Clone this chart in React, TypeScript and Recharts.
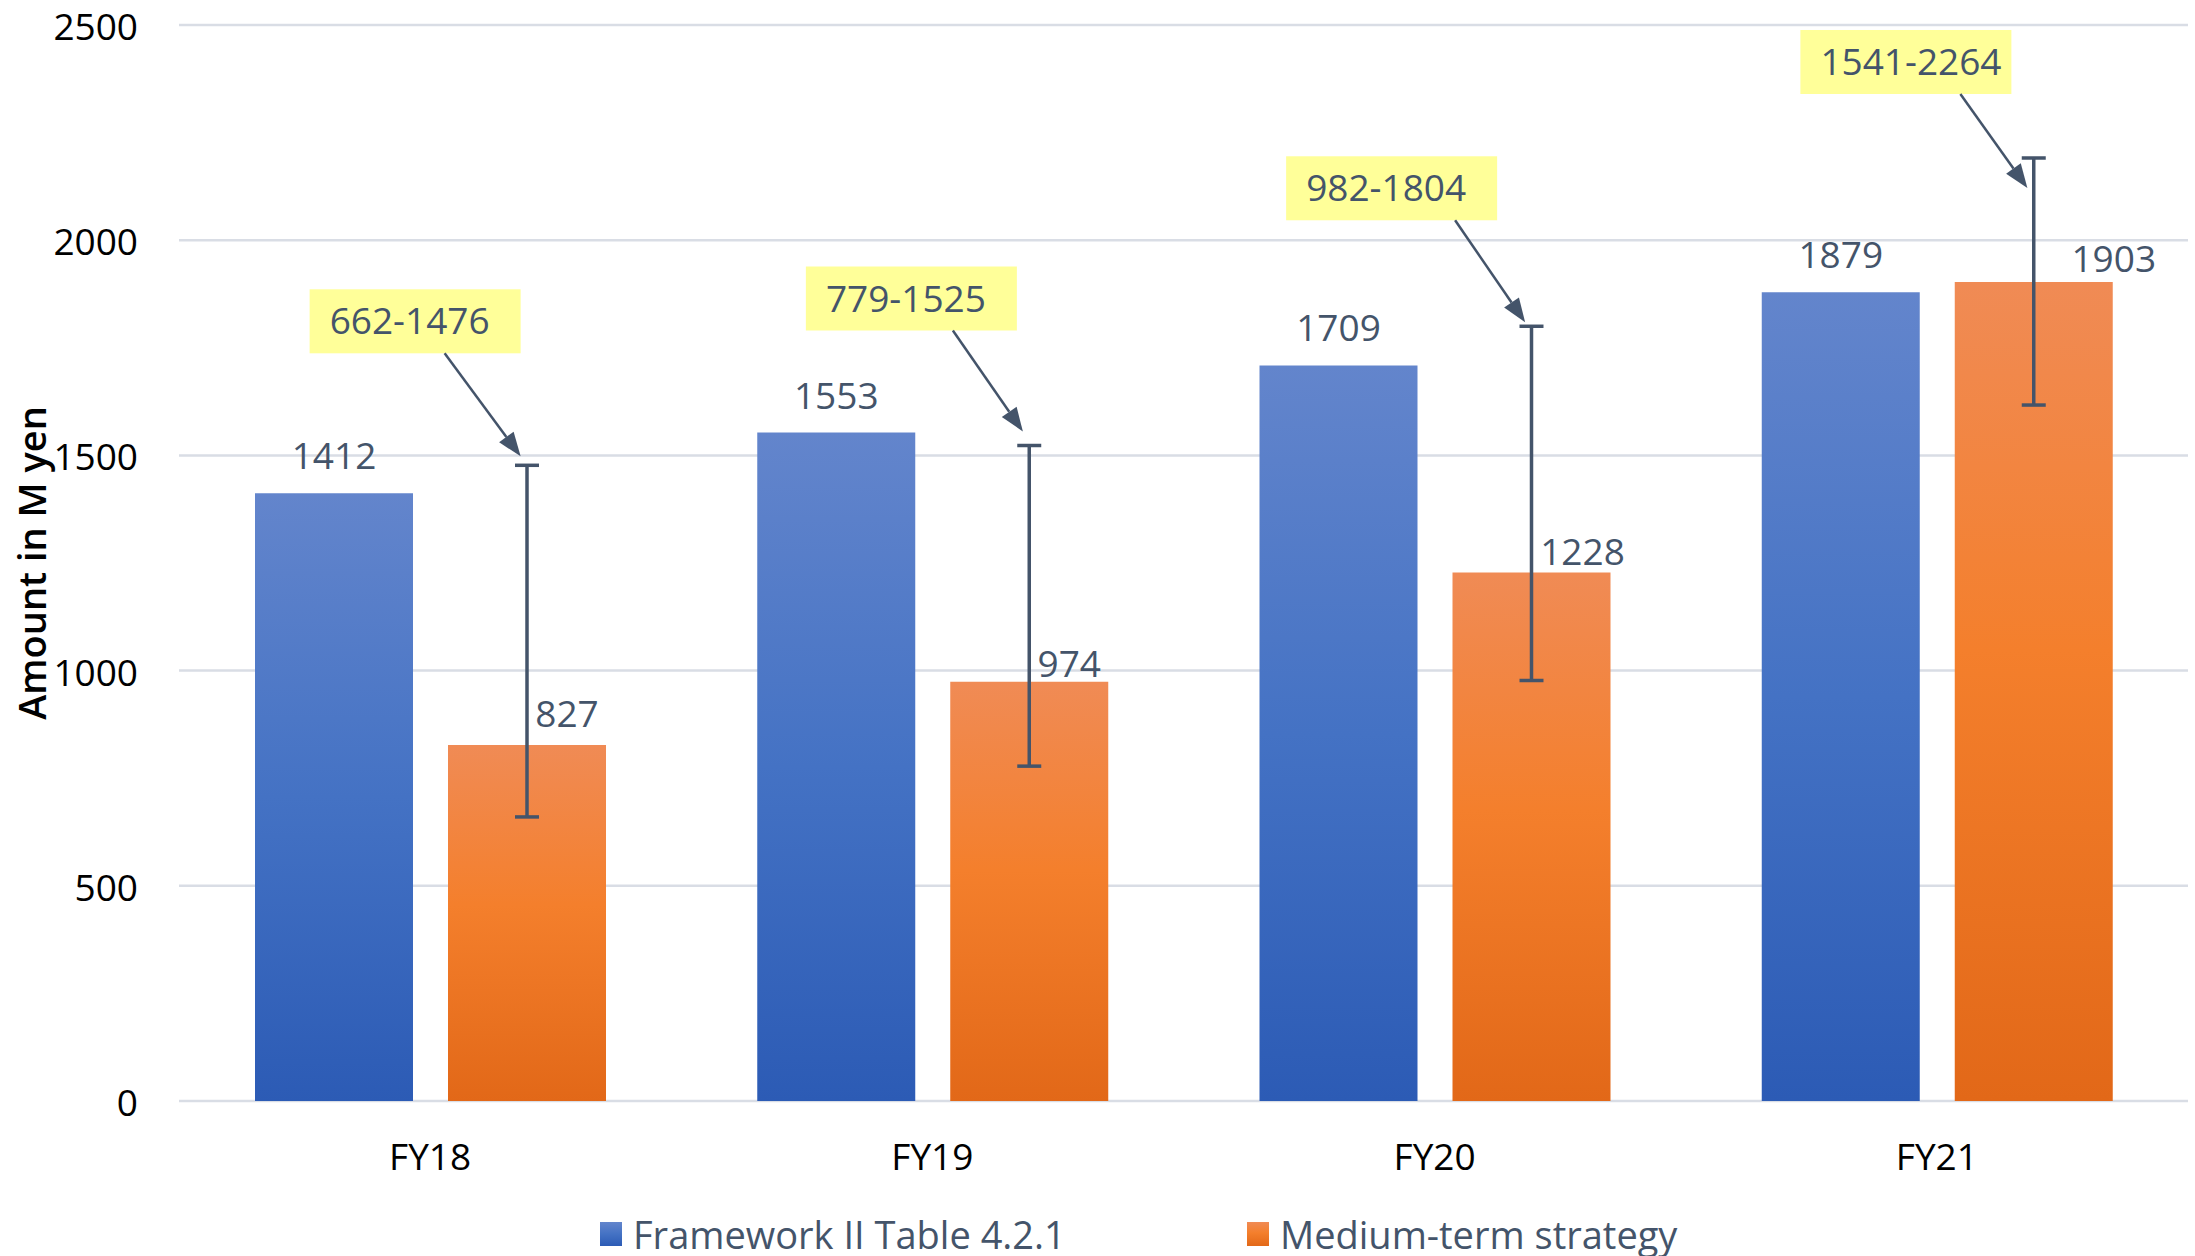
import React from "react";
import {
  BarChart,
  Bar,
  XAxis,
  YAxis,
  CartesianGrid,
  ErrorBar,
  LabelList,
  Legend,
  ReferenceDot,
} from "recharts";

const categories = ["FY18", "FY19", "FY20", "FY21"];
const frameworkValues = [1412, 1553, 1709, 1879];
const strategyValues = [827, 974, 1228, 1903];
// range drawn by the error bars
const rangeLow = [660, 778, 977, 1617];
const rangeHigh = [1477, 1523, 1800, 2191];
// text of the yellow callouts
const rangeLabels = ["662-1476", "779-1525", "982-1804", "1541-2264"];
const yTicks = [0, 500, 1000, 1500, 2000, 2500];

const data = categories.map((name, i) => ({
  name,
  framework: frameworkValues[i],
  strategy: strategyValues[i],
  range: [strategyValues[i] - rangeLow[i], rangeHigh[i] - strategyValues[i]],
}));

const FONT = "'Open Sans', 'Segoe UI', sans-serif";
const SLATE = "#44546A";
const BAR_SIZE = 158;
const BAR_GAP = 35;
const FS = 37;

// hand-placed label nudges for the orange series
const orangeLabelDx = [40, 40, 51, 80];
const orangeLabelDy = [-31, -18, -20, -23];

// callout box / arrow placement relative to the top of each error bar
const calloutLayout = [
  { boxX: -217, boxBottom: -112, startX: -82, tipY: -9 },
  { boxX: -223, boxBottom: -115, startX: -76, tipY: -14 },
  { boxX: -245, boxBottom: -106, startX: -76, tipY: -4 },
  { boxX: -233, boxBottom: -64, startX: -73, tipY: 30 },
];

const renderBlueLabel = (props: any) => {
  const { x, y, width, value } = props;
  return (
    <text
      x={x + width / 2}
      y={y - 37 + 13}
      textAnchor="middle"
      fill={SLATE}
      fontSize={FS}
      fontFamily={FONT}
    >
      {value}
    </text>
  );
};

const renderOrangeLabel = (props: any) => {
  const { x, y, width, value, index } = props;
  return (
    <text
      x={x + width / 2 + orangeLabelDx[index]}
      y={y + orangeLabelDy[index] + 13}
      textAnchor="middle"
      fill={SLATE}
      fontSize={FS}
      fontFamily={FONT}
    >
      {value}
    </text>
  );
};

const renderYTick = (props: any) => {
  const { x, y, payload } = props;
  return (
    <text x={x} y={y} dy={15} textAnchor="end" fill="#000" fontSize={FS} fontFamily={FONT}>
      {payload.value}
    </text>
  );
};

const makeCallout = (i: number) => (props: any) => {
  const { cx, cy } = props;
  const ex = cx + (BAR_SIZE + BAR_GAP) / 2;
  const lay = calloutLayout[i];
  const bw = 211;
  const bh = 64;
  const bx = ex + lay.boxX;
  const by = cy + lay.boxBottom - bh;
  const sx = ex + lay.startX;
  const sy = cy + lay.boxBottom;
  const tx = ex - 6;
  const ty = cy + lay.tipY;
  const ang = Math.atan2(ty - sy, tx - sx);
  const len = 24;
  const hw = 9;
  const bxp = tx - len * Math.cos(ang);
  const byp = ty - len * Math.sin(ang);
  const p1 = `${bxp + hw * Math.sin(ang)},${byp - hw * Math.cos(ang)}`;
  const p2 = `${bxp - hw * Math.sin(ang)},${byp + hw * Math.cos(ang)}`;
  return (
    <g>
      <rect x={bx} y={by} width={bw} height={bh} fill="#FFFF99" />
      <text
        x={bx + 20}
        y={by + bh / 2 + 13}
        fill={SLATE}
        fontSize={FS}
        fontFamily={FONT}
      >
        {rangeLabels[i]}
      </text>
      <line x1={sx} y1={sy} x2={bxp} y2={byp} stroke={SLATE} strokeWidth={2.5} />
      <polygon points={`${tx},${ty} ${p1} ${p2}`} fill={SLATE} />
    </g>
  );
};

const legendItems = [
  { label: "Framework II Table 4.2.1", grad: "linear-gradient(#6385CC, #4472C4 50%, #2C5BB5)", left: 600 },
  { label: "Medium-term strategy", grad: "linear-gradient(#F08B55, #F47F2C 45%, #E26818)", left: 1247 },
];

const renderLegend = () => (
  <div style={{ position: "relative", width: 2195, height: 40 }}>
    {legendItems.map((it) => (
      <div
        key={it.label}
        style={{
          position: "absolute",
          left: it.left,
          top: 0,
          display: "flex",
          alignItems: "center",
          height: 40,
        }}
      >
        <div style={{ width: 22, height: 24, background: it.grad, marginRight: 11 }} />
        <span
          style={{ fontFamily: FONT, fontSize: 38, lineHeight: "40px", color: SLATE, whiteSpace: "nowrap" }}
        >
          {it.label}
        </span>
      </div>
    ))}
  </div>
);

const renderYLabel = (props: any) => {
  const { viewBox } = props;
  const cx = viewBox.x + 31;
  const cy = viewBox.y + viewBox.height / 2;
  return (
    <text
      x={cx}
      y={cy}
      transform={`rotate(-90 ${cx} ${cy})`}
      textAnchor="middle"
      dominantBaseline="central"
      fontSize={38}
      fontWeight={600}
      fontFamily={FONT}
      fill="#000"
    >
      Amount in M yen
    </text>
  );
};

export default function App() {
  return (
    <div style={{ position: "absolute", left: 0, top: 0, width: 2195, height: 1256, background: "#fff" }}>
      <BarChart
        width={2195}
        height={1256}
        data={data}
        margin={{ top: 25, right: 7, bottom: 55, left: 0 }}
        barSize={BAR_SIZE}
        barGap={BAR_GAP}
      >
        <defs>
          <linearGradient id="blueGrad" x1="0" y1="0" x2="0" y2="1">
            <stop offset="0%" stopColor="#6385CC" />
            <stop offset="50%" stopColor="#4472C4" />
            <stop offset="100%" stopColor="#2C5BB5" />
          </linearGradient>
          <linearGradient id="orangeGrad" x1="0" y1="0" x2="0" y2="1">
            <stop offset="0%" stopColor="#F08B55" />
            <stop offset="45%" stopColor="#F47F2C" />
            <stop offset="100%" stopColor="#E26818" />
          </linearGradient>
        </defs>
        <CartesianGrid vertical={false} stroke="#D9DDE5" strokeWidth={2.5} />
        <XAxis
          dataKey="name"
          axisLine={false}
          tickLine={false}
          tickSize={0}
          tickMargin={43}
          height={100}
          tick={{ fill: "#000", fontSize: FS, fontFamily: FONT }}
        />
        <YAxis
          domain={[0, 2500]}
          ticks={yTicks}
          width={179}
          axisLine={false}
          tickLine={false}
          tickSize={0}
          tickMargin={41}
          tick={renderYTick}
          label={{ content: renderYLabel }}
        />
        <Legend
          layout="horizontal"
          verticalAlign="middle"
          align="center"
          content={renderLegend}
          wrapperStyle={{ left: 0, top: 1214, width: 2195, height: 40 }}
        />
        <Bar dataKey="framework" name="Framework II Table 4.2.1" fill="url(#blueGrad)" isAnimationActive={false}>
          <LabelList dataKey="framework" content={renderBlueLabel} />
        </Bar>
        <Bar dataKey="strategy" name="Medium-term strategy" fill="url(#orangeGrad)" isAnimationActive={false}>
          <LabelList dataKey="strategy" content={renderOrangeLabel} />
          <ErrorBar dataKey="range" width={12} stroke={SLATE} strokeWidth={3.5} isAnimationActive={false} />
        </Bar>
        {categories.map((c, i) => (
          <ReferenceDot
            key={c}
            x={c}
            y={rangeHigh[i]}
            r={1}
            ifOverflow="visible"
            shape={makeCallout(i)}
          />
        ))}
      </BarChart>
    </div>
  );
}
